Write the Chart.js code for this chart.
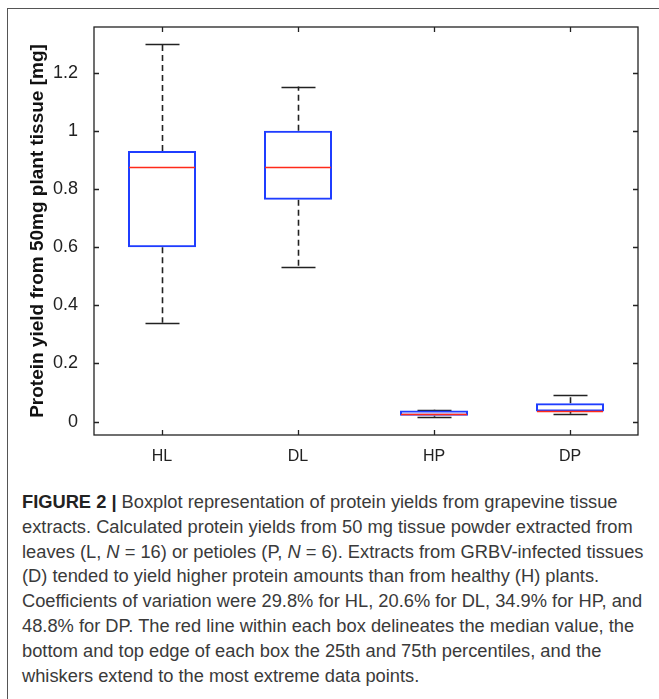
<!DOCTYPE html>
<html>
<head>
<meta charset="utf-8">
<script src="https://cdn.jsdelivr.net/npm/chart.js@4.4.1/dist/chart.umd.min.js"></script>
<style>
    html, body { margin: 0; padding: 0; background: #fff; }
    #figure { position: relative; width: 659px; height: 699px; overflow: hidden; }
    #frame {
        position: absolute; left: 7px; top: 8px; right: -10px; bottom: -10px;
        border-left: 1.5px solid #555; border-top: 1.5px solid #555;
    }
    #chartBox { position: absolute; left: 0; top: 0; width: 659px; height: 470px; }
    #caption {
        position: absolute; left: 22px; top: 490px; width: 640px;
        font-family: "Liberation Sans", Arial, sans-serif; font-size: 18.3px;
        line-height: 24.8px; color: #3a3a3a; white-space: nowrap;
    }
    #caption b { color: #222; }
</style>
</head>
<body>
<div id="figure">
    <div id="frame"></div>
    <div id="chartBox"><canvas id="boxChart" width="659" height="470"></canvas></div>
    <div id="caption">
        <b>FIGURE 2 |</b> Boxplot representation of protein yields from grapevine tissue<br>
        extracts. Calculated protein yields from 50 mg tissue powder extracted from<br>
        leaves (L, <i>N</i> = 16) or petioles (P, <i>N</i> = 6). Extracts from GRBV-infected tissues<br>
        (D) tended to yield higher protein amounts than from healthy (H) plants.<br>
        Coefficients of variation were 29.8% for HL, 20.6% for DL, 34.9% for HP, and<br>
        48.8% for DP. The red line within each box delineates the median value, the<br>
        bottom and top edge of each box the 25th and 75th percentiles, and the<br>
        whiskers extend to the most extreme data points.
    </div>
</div>
<script>
/* ==========================================================================
   DATA (mg protein from 50 mg tissue)
   ========================================================================== */
const categories = ["HL", "DL", "HP", "DP"];
const whiskerLow = [0.34, 0.53, 0.017, 0.027];
const quartile1 = [0.60, 0.763, 0.020, 0.035];
const medians = [0.875, 0.875, 0.025, 0.038];
const quartile3 = [0.931, 1.0, 0.038, 0.063];
const whiskerHigh = [1.30, 1.152, 0.041, 0.09];
const yTicks = [0, 0.2, 0.4, 0.6, 0.8, 1, 1.2];

const BOX_BLUE = "#1f3dff";
const MEDIAN_RED = "#ff2a1a";
const INK = "#222";

/* ==========================================================================
   BOXPLOT EXTRAS: whiskers, medians, matlab style frame + inward ticks
   ========================================================================== */
const boxplotExtras = {
    id: "boxplotExtras",
    beforeDatasetsDraw(chart) {
        const { ctx, scales: { x, y } } = chart;
        const bars = chart.getDatasetMeta(0).data;
        ctx.save();
        ctx.strokeStyle = INK;
        ctx.lineWidth = 1.6;
        categories.forEach((cat, i) => {
            const cx = Math.round(x.getPixelForValue(i)) + 0.5;
            const capHalf = bars[i].width / 4;

            // dashed whisker stems
            ctx.setLineDash([6, 4]);
            ctx.beginPath();
            ctx.moveTo(cx, y.getPixelForValue(quartile3[i]));
            ctx.lineTo(cx, y.getPixelForValue(whiskerHigh[i]));
            ctx.moveTo(cx, y.getPixelForValue(quartile1[i]));
            ctx.lineTo(cx, y.getPixelForValue(whiskerLow[i]));
            ctx.stroke();

            // solid caps
            ctx.setLineDash([]);
            ctx.beginPath();
            [whiskerHigh[i], whiskerLow[i]].forEach(v => {
                const py = Math.round(y.getPixelForValue(v)) + 0.5;
                ctx.moveTo(cx - capHalf, py);
                ctx.lineTo(cx + capHalf, py);
            });
            ctx.stroke();
        });
        ctx.restore();
    },
    afterDatasetsDraw(chart) {
        const { ctx, chartArea: a, scales: { x, y } } = chart;
        const bars = chart.getDatasetMeta(0).data;
        ctx.save();

        // medians
        ctx.strokeStyle = MEDIAN_RED;
        ctx.lineWidth = 1.5;
        categories.forEach((cat, i) => {
            const half = bars[i].width / 2 - 1;
            const py = Math.round(y.getPixelForValue(medians[i])) + 0.5;
            ctx.beginPath();
            ctx.moveTo(bars[i].x - half, py);
            ctx.lineTo(bars[i].x + half, py);
            ctx.stroke();
        });

        // axes box
        ctx.strokeStyle = INK;
        ctx.lineWidth = 1.3;
        ctx.strokeRect(a.left, a.top, a.right - a.left, a.bottom - a.top);

        // inward tick marks
        const tl = 5;
        ctx.beginPath();
        yTicks.forEach(v => {
            const py = Math.round(y.getPixelForValue(v)) + 0.5;
            ctx.moveTo(a.left, py); ctx.lineTo(a.left + tl, py);
            ctx.moveTo(a.right, py); ctx.lineTo(a.right - tl, py);
        });
        categories.forEach((cat, i) => {
            const px = Math.round(x.getPixelForValue(i)) + 0.5;
            ctx.moveTo(px, a.bottom); ctx.lineTo(px, a.bottom - tl);
            ctx.moveTo(px, a.top); ctx.lineTo(px, a.top + tl);
        });
        ctx.stroke();
        ctx.restore();
    }
};

/* ==========================================================================
   CHART
   ========================================================================== */
function renderChart() {
    const ctx = document.getElementById("boxChart").getContext("2d");
    return new Chart(ctx, {
        type: "bar",
        data: {
            labels: categories,
            datasets: [{
                label: "IQR",
                data: categories.map((c, i) => [quartile1[i], quartile3[i]]),
                backgroundColor: "rgba(255,255,255,0)",
                borderColor: BOX_BLUE,
                borderWidth: 2,
                borderSkipped: false,
                barPercentage: 0.5,
                categoryPercentage: 1
            }]
        },
        options: {
            responsive: false,
            animation: false,
            layout: { padding: { top: 27, right: 21, left: 0, bottom: 0 } },
            plugins: {
                legend: { display: false },
                tooltip: { enabled: false }
            },
            scales: {
                x: {
                    grid: { display: false },
                    border: { display: false },
                    ticks: {
                        color: INK,
                        padding: 4,
                        font: { family: "Liberation Sans, Arial, sans-serif", size: 16 }
                    },
                    afterFit: scale => { scale.height = 35; }
                },
                y: {
                    min: -0.046,
                    max: 1.357,
                    grid: { display: false },
                    border: { display: false },
                    afterBuildTicks: scale => {
                        scale.ticks = yTicks.map(v => ({ value: v }));
                    },
                    ticks: {
                        color: INK,
                        padding: 8,
                        font: { family: "Liberation Sans, Arial, sans-serif", size: 18 },
                        callback: v => String(+Number(v).toFixed(1))
                    },
                    title: {
                        display: true,
                        text: "Protein yield from 50mg plant tissue [mg]",
                        color: "#111",
                        padding: { top: 26, bottom: 0 },
                        font: { family: "Liberation Sans, Arial, sans-serif", size: 19, weight: "bold" }
                    },
                    afterFit: scale => { scale.width = 94; }
                }
            }
        },
        plugins: [boxplotExtras]
    });
}

document.addEventListener("DOMContentLoaded", renderChart);
</script>
</body>
</html>
